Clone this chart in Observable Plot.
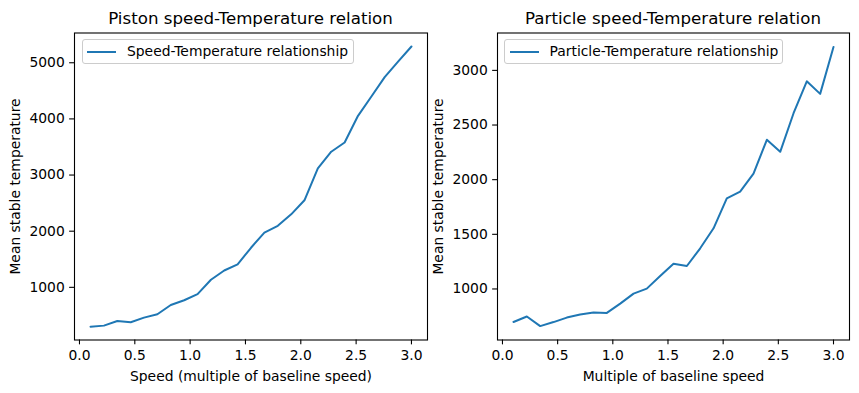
<!DOCTYPE html>
<html><head><meta charset="utf-8">
<script src="https://cdn.jsdelivr.net/npm/d3@7"></script>
<script src="https://cdn.jsdelivr.net/npm/@observablehq/plot@0.6"></script>
<style>
body{margin:0;background:#fff;font-family:"DejaVu Sans";}
#fig{position:relative;width:859px;height:393px;overflow:hidden;}
.panel{position:absolute;top:0;}
.title{position:absolute;top:8.5px;font-size:16.67px;white-space:nowrap;transform:translateX(-50%);line-height:1.164;color:#000;}
.legend{position:absolute;top:39px;height:25px;border:1px solid #cccccc;border-radius:3px;background:rgba(255,255,255,0.8);box-sizing:border-box;}
.legend .swatch{position:absolute;top:10.5px;width:29px;height:2px;background:#1f77b4;}
.legend .txt{position:absolute;top:2.5px;font-size:13.89px;white-space:nowrap;line-height:1.164;color:#000;}
</style></head>
<body><div id="fig"></div>
<script>
const speed = [0.1, 0.221, 0.342, 0.463, 0.583, 0.704, 0.825, 0.946, 1.067, 1.188, 1.308, 1.429, 1.55, 1.671, 1.792, 1.913, 2.033, 2.154, 2.275, 2.396, 2.517, 2.638, 2.758, 2.879, 3.0];
const pistonTemp = [300, 318, 400, 378, 460, 520, 685, 770, 878, 1135, 1300, 1410, 1705, 1975, 2095, 2300, 2550, 3120, 3415, 3580, 4055, 4400, 4745, 5020, 5290];
const particleTemp = [698, 748, 660, 697, 738, 766, 784, 781, 866, 957, 1003, 1118, 1230, 1210, 1372, 1555, 1828, 1890, 2055, 2365, 2255, 2608, 2900, 2785, 3214];
const pistonTicks = [1000, 2000, 3000, 4000, 5000];
const particleTicks = [1000, 1500, 2000, 2500, 3000];
const xTicks = [0, 0.5, 1, 1.5, 2, 2.5, 3];
const titles = ["Piston speed-Temperature relation", "Particle speed-Temperature relation"];
const xLabels = ["Speed (multiple of baseline speed)", "Multiple of baseline speed"];
const yLabel = "Mean stable temperature";
const legendLabels = ["Speed-Temperature relationship", "Particle-Temperature relationship"];

const fig = document.getElementById("fig");
const blue = "#1f77b4";

function panel({left, width, mLeft, mRight, temps, yDomain, yTicks, title, xLabel, legend, legendBox}) {
  const data = speed.map((s, i) => ({s, t: temps[i]}));
  const svg = Plot.plot({
    width, height: 393,
    marginLeft: mLeft, marginRight: mRight, marginTop: 32.5, marginBottom: 53.5,
    style: {fontFamily: "DejaVu Sans", fontSize: "13.89px", color: "#000", background: "transparent", overflow: "visible"},
    x: {domain: [-0.045, 3.145]},
    y: {domain: yDomain},
    marks: [
      Plot.line(data, {x: "s", y: "t", stroke: blue, strokeWidth: 2}),
      Plot.frame({stroke: "#000", strokeWidth: 1.1}),
      Plot.axisX({ticks: xTicks, tickFormat: d3.format(".1f"), tickSize: 4.86, tickPadding: 4.86, strokeWidth: 1.1, label: xLabel, labelAnchor: "center", labelOffset: 41, labelArrow: "none", fontSize: "13.89px"}),
      Plot.axisY({ticks: yTicks, tickFormat: d => String(d), tickSize: 4.86, tickPadding: 4.86, strokeWidth: 1.1, label: yLabel, labelAnchor: "center", labelOffset: 64, labelArrow: "none", fontSize: "13.89px"})
    ]
  });
  svg.classList.add("panel");
  svg.style.left = left + "px";
  fig.appendChild(svg);
  const t = document.createElement("div");
  t.className = "title";
  t.textContent = title;
  t.style.left = (left + mLeft + (width - mLeft - mRight) / 2) + "px";
  fig.appendChild(t);
  const lg = document.createElement("div");
  lg.className = "legend";
  lg.style.left = legendBox.left + "px";
  lg.style.width = legendBox.width + "px";
  const sw = document.createElement("div");
  sw.className = "swatch";
  sw.style.left = legendBox.sw + "px";
  const tx = document.createElement("div");
  tx.className = "txt";
  tx.style.left = legendBox.tx + "px";
  tx.textContent = legend;
  lg.appendChild(sw); lg.appendChild(tx);
  fig.appendChild(lg);
}

panel({left: 0, width: 430, mLeft: 74, mRight: 3, temps: pistonTemp, yDomain: [62, 5530], yTicks: pistonTicks,
  title: titles[0], xLabel: xLabels[0], legend: legendLabels[0], legendBox: {left: 81.5, width: 272, sw: 4, tx: 44.5}});
panel({left: 430, width: 429, mLeft: 67, mRight: 10, temps: particleTemp, yDomain: [533, 3342], yTicks: particleTicks,
  title: titles[1], xLabel: xLabels[1], legend: legendLabels[1], legendBox: {left: 504, width: 279, sw: 4.5, tx: 44.5}});
</script>
</body></html>
